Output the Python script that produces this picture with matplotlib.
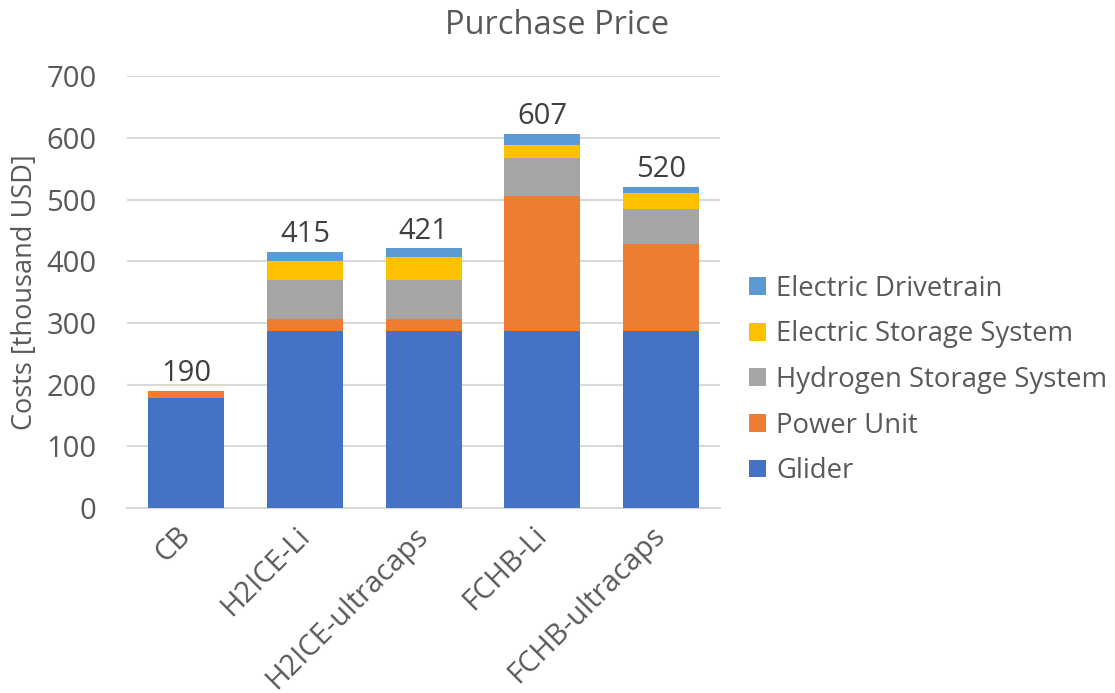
import numpy as np
import matplotlib.pyplot as plt

plt.rcParams['font.family'] = ['Open Sans', 'DejaVu Sans']

buses = ['CB', 'H2ICE-Li', 'H2ICE-ultracaps', 'FCHB-Li', 'FCHB-ultracaps']
glider = [179, 287, 287, 287, 287]
power_unit = [11, 20, 20, 219, 141]
h2_storage = [0, 63, 63, 62, 57]
el_storage = [0, 31, 37, 20, 25]
el_drivetrain = [0, 14, 14, 19, 10]
totals = [190, 415, 421, 607, 520]

components = [
    ('Glider', glider, '#4472C4'),
    ('Power Unit', power_unit, '#ED7D31'),
    ('Hydrogen Storage System', h2_storage, '#A5A5A5'),
    ('Electric Storage System', el_storage, '#FFC000'),
    ('Electric Drivetrain', el_drivetrain, '#5B9BD5'),
]

txt = '#595959'

fig = plt.figure(figsize=(11.15, 6.93), dpi=100)
ax = fig.add_axes([0.114, 0.267, 0.532, 0.623])

x = np.arange(len(buses))
bottom = np.zeros(len(buses))
for name, vals, col in components:
    ax.bar(x, vals, 0.64, bottom=bottom, color=col, label=name, zorder=3)
    bottom += np.array(vals)

# totals on top of each stack
for xi, tot in zip(x, totals):
    ax.annotate(str(tot), (xi, tot), xytext=(0, 2), textcoords='offset points',
                ha='center', va='bottom', fontsize=21, color='#404040')

ax.set_xlim(-0.5, len(buses) - 0.5)
ax.set_ylim(0, 700)
ax.set_yticks(range(0, 701, 100))
ax.grid(axis='y', color='#D9D9D9', linewidth=1.5, zorder=0)
for s in ['top', 'right', 'left']:
    ax.spines[s].set_visible(False)
ax.spines['bottom'].set_color('#D9D9D9')
ax.spines['bottom'].set_linewidth(1.5)
ax.tick_params(axis='both', length=0, labelsize=21, labelcolor=txt)
ax.tick_params(axis='y', pad=22)
ax.tick_params(axis='x', pad=17)
ax.set_xticks(x)
ax.set_xticklabels(buses, rotation=45, ha='right', va='center', rotation_mode='anchor')

fig.text(0.5, 1 - 26 / 693, 'Purchase Price', ha='center', va='center',
         fontsize=23.5, color=txt)
fig.text(25 / 1115, 1 - 292 / 693, 'Costs [thousand USD]', rotation=90,
         ha='center', va='center', fontsize=19.5, color=txt)

handles, labels = ax.get_legend_handles_labels()
leg = fig.legend(handles[::-1], labels[::-1], loc='center left',
                 bbox_to_anchor=(749 / 1115, 1 - 380 / 693), frameon=False,
                 fontsize=19.8, handlelength=0.62, handleheight=0.62,
                 handletextpad=0.36, labelspacing=0.64, borderpad=0,
                 borderaxespad=0)
for t in leg.get_texts():
    t.set_color(txt)

fig.savefig('out.png', dpi=100)
